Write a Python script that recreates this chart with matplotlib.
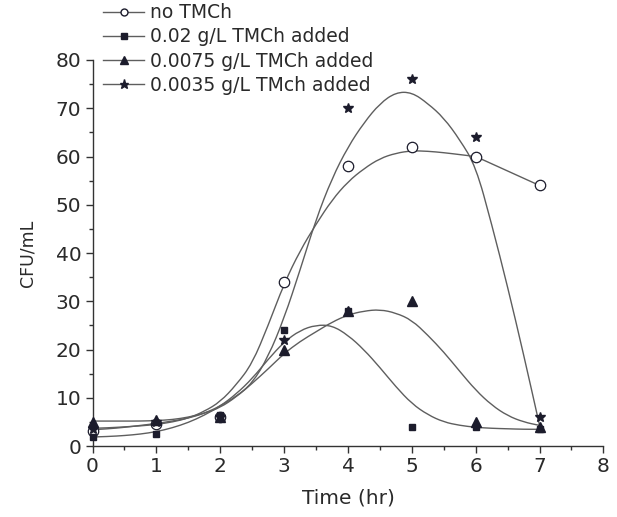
import numpy as np
import matplotlib.pyplot as plt
from matplotlib.lines import Line2D
from matplotlib.path import Path
from matplotlib.patches import PathPatch
from matplotlib.ticker import MultipleLocator

plt.rcParams['font.family'] = ['DejaVu Sans']

# measured points
t = [0, 1, 2, 3, 4, 5, 6, 7]
no_tmch = [3.2, 4.5, 6.0, 34, 58, 62, 60, 54]
tmch_002 = [2.0, 2.5, 6.5, 24, 28, 4, 4, 3.5]
tmch_00075 = [5.0, 5.5, 6.0, 20, 28, 30, 5, 4]
tmch_00035 = [3.5, 5.0, 6.0, 22, 70, 76, 64, 6]

# fitted curves, every 0.25 hr
t_fit = np.arange(0, 7.01, 0.25)
fit_no = [3.7, 3.8, 4.0, 4.2, 4.5, 5.0, 5.8, 7.2, 9.2, 12.7, 17.1, 25.0, 33.7,
          40.5, 46.0, 51.0, 54.8, 57.5, 59.6, 60.7, 61.2, 61.1, 60.8, 60.4,
          60.0, 58.5, 57.0, 55.5, 54.0]
fit_002 = [1.9, 2.0, 2.2, 2.5, 3.0, 3.8, 4.9, 6.4, 8.3, 10.8, 14.0, 18.0, 21.6,
           24.0, 25.1, 25.0, 23.0, 20.0, 16.3, 12.3, 8.8, 6.5, 5.0, 4.3,
           3.9, 3.7, 3.6, 3.5, 3.5]
fit_00075 = [5.2, 5.2, 5.2, 5.2, 5.3, 5.5, 6.0, 6.8, 8.0, 10.2, 13.0, 16.0, 19.2,
             21.7, 23.7, 25.7, 27.2, 28.0, 28.3, 27.6, 26.1, 23.0, 19.5, 15.5,
             11.6, 8.5, 6.3, 5.0, 4.3]
fit_00035 = [3.4, 3.6, 3.9, 4.3, 4.7, 5.2, 5.8, 6.8, 8.3, 10.3, 13.0, 18.5, 26.5,
             36.5, 47.0, 55.5, 62.0, 67.0, 71.0, 73.3, 73.3, 71.0, 68.0, 63.5,
             58.0, 46.0, 33.0, 19.0, 4.3]

labels = ['no TMCh', '0.02 g/L TMCh added', '0.0075 g/L TMCh added',
          '0.0035 g/L TMch added']

line_c = '#5e5e5e'
mark_c = '#1c1c2c'
text_c = '#2a2a2a'


def smooth_path(x, y):
    # quadratic bezier through midpoints so the drawn fit looks smooth
    pts = np.column_stack([x, y])
    verts = [pts[0]]
    codes = [Path.MOVETO]
    for i in range(1, len(pts) - 1):
        mid = (pts[i] + pts[i + 1]) / 2
        verts += [pts[i], mid]
        codes += [Path.CURVE3, Path.CURVE3]
    verts.append(pts[-1])
    codes.append(Path.LINETO)
    return Path(verts, codes)


fig = plt.figure(figsize=(6.17, 5.17), dpi=100)
ax = fig.add_axes([0.150, 0.137, 0.828, 0.747])

for y in [fit_no, fit_002, fit_00075, fit_00035]:
    ax.add_patch(PathPatch(smooth_path(t_fit, y), fill=False, edgecolor=line_c,
                           lw=1.0, zorder=2))

ax.plot(t, no_tmch, 'o', ms=7.5, mfc='white', mec=mark_c, mew=0.9, zorder=3,
        clip_on=False)
ax.plot(t, tmch_002, 's', ms=5, color=mark_c, zorder=3, clip_on=False)
ax.plot(t, tmch_00075, '^', ms=6.5, color=mark_c, zorder=3, clip_on=False)
ax.plot(t, tmch_00035, '*', ms=7.5, color=mark_c, zorder=3, clip_on=False)

ax.set_xlim(0, 8)
ax.set_ylim(0, 80)
ax.xaxis.set_major_locator(MultipleLocator(1))
ax.xaxis.set_minor_locator(MultipleLocator(0.5))
ax.yaxis.set_major_locator(MultipleLocator(10))
ax.yaxis.set_minor_locator(MultipleLocator(5))
ax.spines['top'].set_visible(False)
ax.spines['right'].set_visible(False)
for s in ['left', 'bottom']:
    ax.spines[s].set_color('#333333')
    ax.spines[s].set_linewidth(1.0)
ax.tick_params(which='major', direction='out', length=5, width=1,
               color='#333333', labelsize=14.5, labelcolor=text_c, pad=3)
ax.tick_params(which='minor', direction='out', length=3, width=1,
               color='#333333')
ax.set_xlabel('Time (hr)', fontsize=14.5, color=text_c, labelpad=9)
ax.set_ylabel('CFU/mL', fontsize=12.5, color=text_c, labelpad=14)

handles = [
    Line2D([], [], color=line_c, lw=1, marker='o', ms=5, mfc='white', mec=mark_c),
    Line2D([], [], color=line_c, lw=1, marker='s', ms=4.5, mfc=mark_c, mec=mark_c),
    Line2D([], [], color=line_c, lw=1, marker='^', ms=5.5, mfc=mark_c, mec=mark_c),
    Line2D([], [], color=line_c, lw=1, marker='*', ms=6.5, mfc=mark_c, mec=mark_c),
]
fig.legend(handles, labels, loc='upper left', bbox_to_anchor=(0.167, 0.994),
           frameon=False, fontsize=13.5, handlelength=2.2, handletextpad=0.3,
           labelspacing=0.28, borderpad=0, borderaxespad=0, labelcolor=text_c)

fig.savefig('out.png', dpi=100)
